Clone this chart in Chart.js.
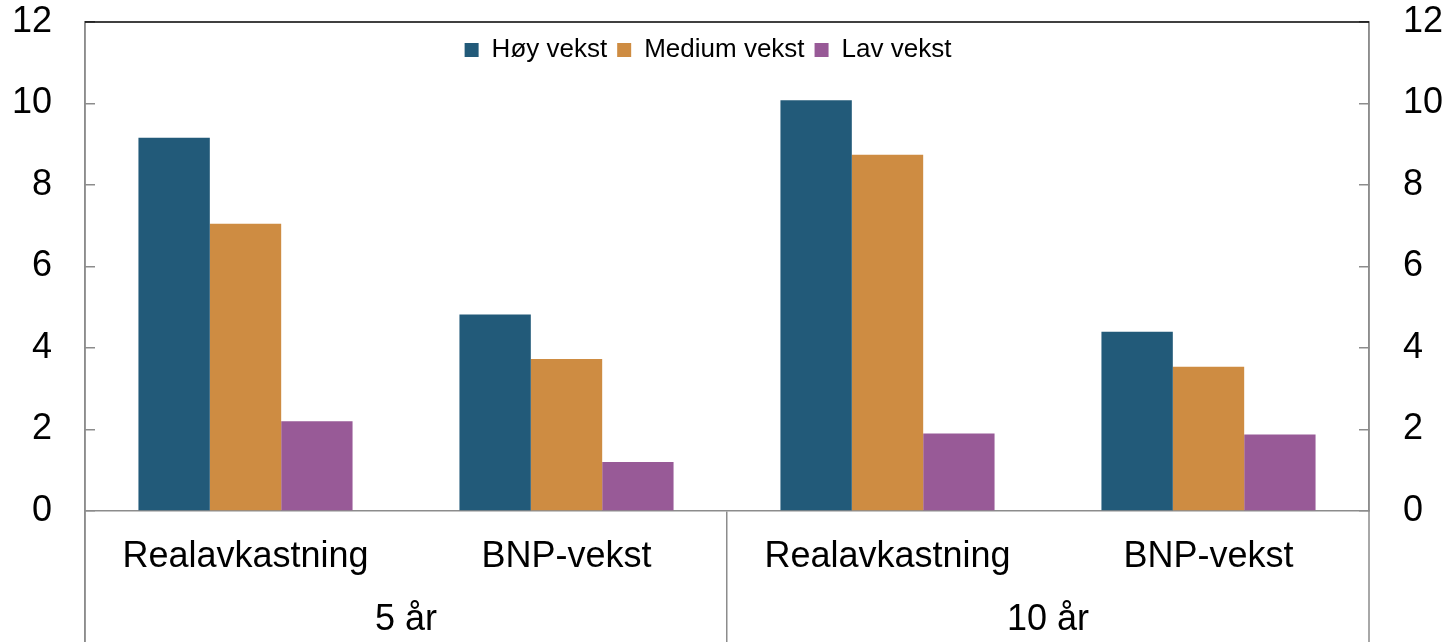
<!DOCTYPE html>
<html>
<head>
<meta charset="utf-8">
<script src="https://cdn.jsdelivr.net/npm/chart.js@4.4.1/dist/chart.umd.min.js"></script>
<style>
html,body{margin:0;padding:0;background:#fff;}
#wrap{width:1447px;height:642px;position:relative;}
</style>
</head>
<body>
<div id="wrap"><canvas id="c"></canvas></div>
<script>
const categories = ['Realavkastning', 'BNP-vekst', 'Realavkastning', 'BNP-vekst'];
const periods = ['5 år', '10 år'];
const seriesNames = ['Høy vekst', 'Medium vekst', 'Lav vekst'];
const hoyVekst = [9.16, 4.82, 10.08, 4.40];
const mediumVekst = [7.05, 3.73, 8.74, 3.54];
const lavVekst = [2.20, 1.20, 1.90, 1.88];
const yMin = 0, yMax = 12, yStep = 2;

const FONT = "'Liberation Sans', Arial, sans-serif";
const GRAY = '#8c8c8c';

const framePlugin = {
  id: 'frame',
  beforeLayout(chart) {
    const lg = chart.legend;
    if (lg && !lg._patched) {
      const f = lg.fit.bind(lg);
      lg.fit = function () { f(); this._realH = this.height; this.height = 0; };
      lg._patched = true;
    }
  },
  afterUpdate(chart) {
    const lg = chart.legend;
    if (!lg) return;
    const newTop = 27;
    const d = newTop - lg.top;
    lg.top = newTop;
    lg.height = lg._realH || 60;
    lg.bottom = newTop + lg.height;
    lg.left = 0; lg.right = 1416; lg.width = 1416;
    (lg.legendHitBoxes || []).forEach(h => { h.top += d; });
  },
  afterDraw(chart) {
    const ctx = chart.ctx, a = chart.chartArea;
    ctx.save();
    ctx.lineWidth = 1.5;
    ctx.strokeStyle = GRAY;
    ctx.beginPath();
    ctx.moveTo(a.left, a.top); ctx.lineTo(a.left, chart.height);
    ctx.moveTo(a.right, a.top); ctx.lineTo(a.right, chart.height);
    ctx.stroke();
    ctx.strokeStyle = '#000';
    ctx.beginPath();
    ctx.moveTo(a.left, a.top);
    ctx.lineTo(a.right, a.top);
    ctx.stroke();
    ctx.restore();
  }
};

function fixY(width) {
  return function (s) { s.width = width; s.paddingTop = 0; s.paddingBottom = 0; };
}

new Chart(document.getElementById('c'), {
  type: 'bar',
  data: {
    labels: categories,
    datasets: [
      { label: seriesNames[0], data: hoyVekst, backgroundColor: '#225a79' },
      { label: seriesNames[1], data: mediumVekst, backgroundColor: '#ce8c42' },
      { label: seriesNames[2], data: lavVekst, backgroundColor: '#985a97' }
    ]
  },
  options: {
    responsive: true,
    maintainAspectRatio: false,
    animation: false,
    devicePixelRatio: 1,
    layout: { padding: { top: 22, left: 0, right: 0, bottom: 0 } },
    datasets: { bar: { categoryPercentage: 0.667, barPercentage: 1.0, borderWidth: 0 } },
    plugins: {
      tooltip: { enabled: false },
      legend: {
        position: 'top',
        labels: {
          font: { family: FONT, size: 26 },
          color: '#000',
          boxWidth: 14,
          boxHeight: 14,
          padding: 10
        }
      }
    },
    scales: {
      x: {
        type: 'category',
        position: 'bottom',
        offset: true,
        border: { display: true, color: GRAY, width: 1.5 },
        grid: {
          offset: true,
          drawOnChartArea: false,
          drawTicks: true,
          tickLength: 131,
          lineWidth: 1.5,
          color: (c) => (c.index % 2 === 0 ? GRAY : 'rgba(0,0,0,0)')
        },
        ticks: {
          font: { family: FONT, size: 36 },
          color: '#000',
          padding: 24 - 131,
          maxRotation: 0,
          autoSkip: false
        },
        afterFit(s) { s.height = 65; }
      },
      x2: {
        type: 'category',
        labels: periods,
        position: 'bottom',
        offset: true,
        border: { display: false },
        grid: { display: false, drawTicks: false },
        ticks: {
          font: { family: FONT, size: 36 },
          color: '#000',
          padding: 22,
          maxRotation: 0,
          autoSkip: false
        },
        afterFit(s) { s.height = 66; }
      },
      y: {
        position: 'left',
        min: yMin, max: yMax,
        border: { display: true, color: GRAY, width: 1.5 },
        grid: { drawOnChartArea: false, drawTicks: true, tickLength: -10, color: GRAY, lineWidth: 1.5 },
        ticks: { stepSize: yStep, font: { family: FONT, size: 36 }, color: '#000', padding: 43 },
        afterFit: fixY(85)
      },
      y2: {
        position: 'right',
        min: yMin, max: yMax,
        border: { display: true, color: GRAY, width: 1.5 },
        grid: { drawOnChartArea: false, drawTicks: true, tickLength: -10, color: GRAY, lineWidth: 1.5 },
        ticks: { stepSize: yStep, font: { family: FONT, size: 36 }, color: '#000', padding: 44 },
        afterFit: fixY(78)
      }
    }
  },
  plugins: [framePlugin]
});
</script>
</body>
</html>
